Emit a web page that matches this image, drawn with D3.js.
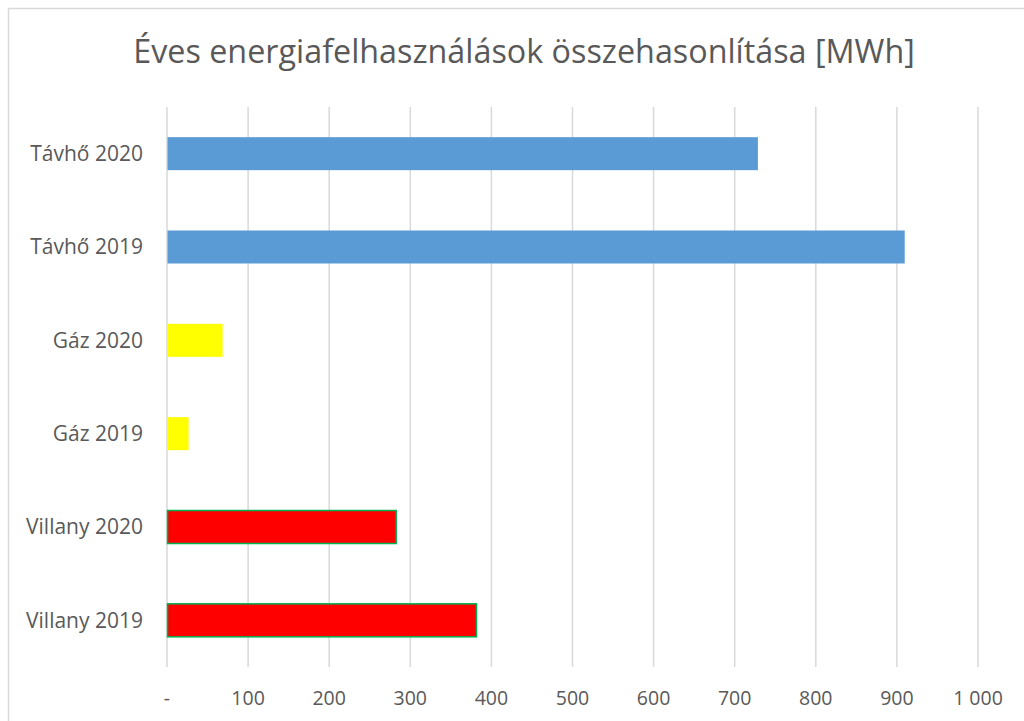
<!DOCTYPE html>
<html>
<head>
<meta charset="utf-8">
<script src="https://cdn.jsdelivr.net/npm/d3@7"></script>
<style>
  body { margin: 0; background: #fff; }
  svg text { font-family: "Open Sans", sans-serif; fill: #595959; }
</style>
</head>
<body>
<div id="viz-container"></div>
<script>
const categories = ["Távhő 2020", "Távhő 2019", "Gáz 2020", "Gáz 2019", "Villany 2020", "Villany 2019"];
const values = [728, 909, 68, 26, 282, 381];
const groups = ["tavho", "tavho", "gaz", "gaz", "villany", "villany"];
const xTicks = [0, 100, 200, 300, 400, 500, 600, 700, 800, 900, 1000];
const title = "Éves energiafelhasználások összehasonlítása [MWh]";

const fills = { tavho: "#5b9bd5", gaz: "#ffff00", villany: "#ff0000" };
const strokes = { tavho: "none", gaz: "none", villany: "#00b050" };

const width = 1024, height = 721;
const svg = d3.select("#viz-container").append("svg")
  .attr("width", width).attr("height", height);

// chart border
svg.append("rect")
  .attr("x", 8.5).attr("y", 8.5)
  .attr("width", width + 10).attr("height", height + 10)
  .attr("fill", "none").attr("stroke", "#d9d9d9").attr("stroke-width", 1.5);

const x = d3.scaleLinear().domain([0, 1000]).range([167, 978]);
const y = d3.scaleBand().domain(categories).range([107, 667]);
const barH = 33;

// gridlines
svg.append("g").selectAll("line").data(xTicks).join("line")
  .attr("x1", d => x(d)).attr("x2", d => x(d))
  .attr("y1", 107).attr("y2", 667)
  .attr("stroke", "#d9d9d9").attr("stroke-width", 1.5);

// bars
svg.append("g").selectAll("rect").data(categories).join("rect")
  .attr("x", x(0) + 0.5)
  .attr("y", d => y(d) + y.bandwidth() / 2 - barH / 2)
  .attr("width", (d, i) => x(values[i]) - x(0))
  .attr("height", barH)
  .attr("fill", (d, i) => fills[groups[i]])
  .attr("stroke", (d, i) => strokes[groups[i]])
  .attr("stroke-width", 1.5);

// x labels
svg.append("g").selectAll("text").data(xTicks).join("text")
  .attr("x", d => x(d))
  .attr("y", 698)
  .attr("dy", "0.35em")
  .attr("text-anchor", "middle")
  .style("font-size", "19.5px")
  .text(d => d === 0 ? "-" : d3.format(",")(d).replace(",", " "));

// category labels
svg.append("g").selectAll("text").data(categories).join("text")
  .attr("x", 143)
  .attr("y", d => y(d) + y.bandwidth() / 2)
  .attr("dy", "0.35em")
  .attr("text-anchor", "end")
  .style("font-size", "21px")
  .text(d => d);

// title, fitted to the reference width
const t = svg.append("text")
  .attr("x", 524).attr("y", 52)
  .attr("dy", "0.35em")
  .attr("text-anchor", "middle")
  .style("font-size", "30px")
  .text(title);
const tw = t.node().getComputedTextLength();
t.style("font-size", (30 * 782 / tw).toFixed(1) + "px");
</script>
</body>
</html>
